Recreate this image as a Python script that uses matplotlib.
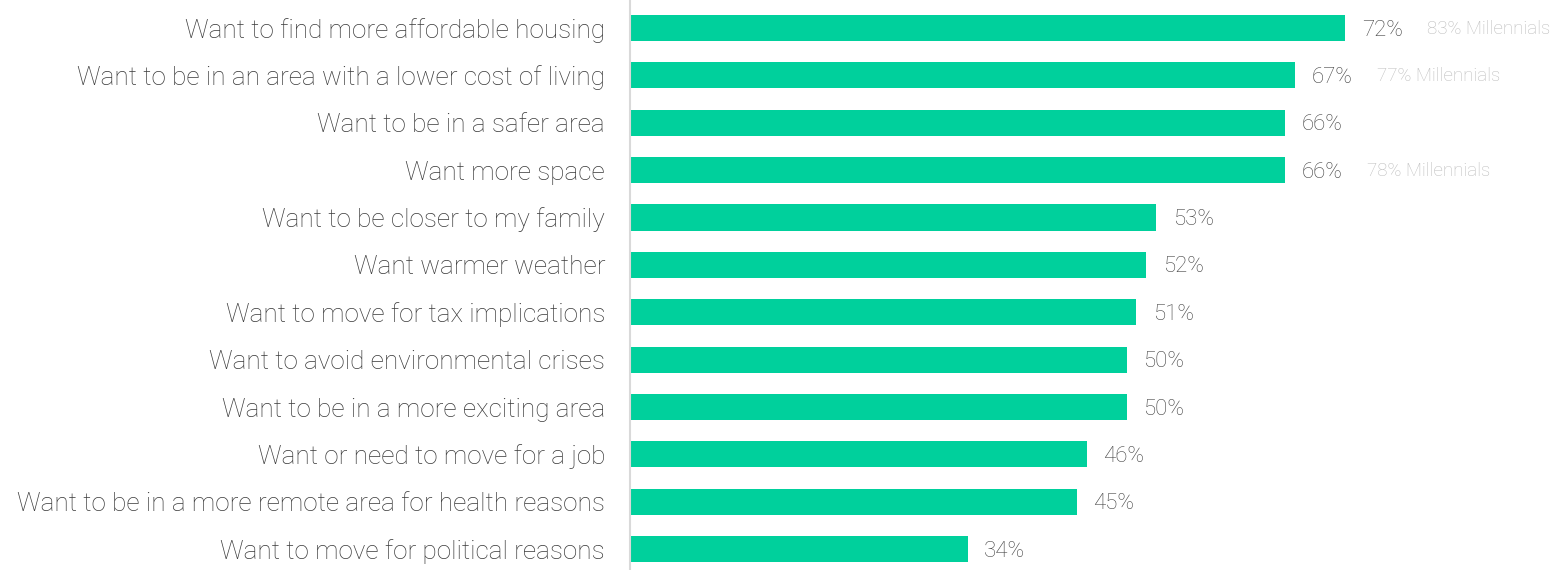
import matplotlib.pyplot as plt

reasons = [
    "Want to find more affordable housing",
    "Want to be in an area with a lower cost of living",
    "Want to be in a safer area",
    "Want more space",
    "Want to be closer to my family",
    "Want warmer weather",
    "Want to move for tax implications",
    "Want to avoid environmental crises",
    "Want to be in a more exciting area",
    "Want or need to move for a job",
    "Want to be in a more remote area for health reasons",
    "Want to move for political reasons",
]
values = [72, 67, 66, 66, 53, 52, 51, 50, 50, 46, 45, 34]
millennials = ["83% Millennials", "77% Millennials", "", "78% Millennials",
               "", "", "", "", "", "", "", ""]

plt.rcParams['font.family'] = ['Roboto', 'DejaVu Sans']

fig = plt.figure(figsize=(15.67, 5.70), dpi=100)
ax = fig.add_axes([630 / 1567, 0, 1 - 630 / 1567, 1])

pos = list(range(len(reasons)))
ax.barh(pos, values, height=0.55, color='#00d09c')
ax.set_xlim(0, (1567 - 630) / 9.93)
ax.set_ylim(11.44, -0.59)

for i, v in enumerate(values):
    ax.annotate(f"{v}%", (v, i), xytext=(12, -1.5), textcoords='offset points',
                va='center', ha='left', fontsize=16, color='#444444',
                fontweight='light')
    if millennials[i]:
        ax.annotate(millennials[i], (v, i), xytext=(59, -0.5), textcoords='offset points',
                    va='center', ha='left', fontsize=13.5, color='#bcbcbc',
                    fontweight='light')

ax.set_yticks(pos)
ax.set_yticklabels(reasons, fontsize=18.8, color='#3a3a3a', fontweight='light')
ax.tick_params(axis='y', length=0, pad=18)
ax.set_xticks([])
for s in ['top', 'right', 'bottom']:
    ax.spines[s].set_visible(False)
ax.spines['left'].set_color('#d9d9d9')
ax.spines['left'].set_linewidth(1.5)

fig.savefig('out.png', dpi=100)
